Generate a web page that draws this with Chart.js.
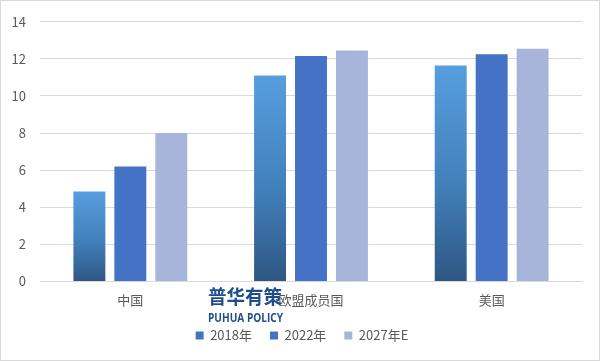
<!DOCTYPE html>
<html>
<head>
<meta charset="utf-8">
<script src="https://cdn.jsdelivr.net/npm/chart.js@4/dist/chart.umd.min.js"></script>
<style>
  html, body { margin: 0; padding: 0; background: #fff; }
  #wrap { width: 600px; height: 361px; }
</style>
</head>
<body>
<div id="wrap"><canvas id="grafica" width="600" height="361"></canvas></div>
<script>
// datos
const categorias = ['中国', '欧盟成员国', '美国'];
const series = ['2018年', '2022年', '2027年E'];
const valores2018 = [4.85, 11.1, 11.65];
const valores2022 = [6.2, 12.15, 12.25];
const valores2027E = [8.0, 12.45, 12.55];
const yMin = 0, yMax = 14, yPaso = 2;

const FUENTE = '"Noto Sans CJK SC", "Noto Sans", sans-serif';

// gradiente por barra para la serie 2018
function gradiente2018(ctx) {
    const chart = ctx.chart;
    const area = chart.chartArea;
    if (!area || ctx.type !== 'data') return '#4683C2';
    const y = chart.scales.y;
    const top = y.getPixelForValue(ctx.raw);
    const base = y.getPixelForValue(0);
    const g = chart.ctx.createLinearGradient(0, top, 0, base);
    g.addColorStop(0, '#579EDF');
    g.addColorStop(0.55, '#4280BB');
    g.addColorStop(1, '#2E5783');
    return g;
}

// marco, leyenda desplazada y marca de agua
const marco = {
    id: 'marco',
    afterLayout(chart) {
        // la leyenda del original está algo a la derecha
        chart.legend.left += 11;
        chart.legend.right += 11;
    },
    afterDraw(chart) {
        const c = chart.ctx;
        c.save();
        c.strokeStyle = '#D9D9D9';
        c.lineWidth = 1;
        c.strokeRect(0.5, 0.5, chart.width - 1, chart.height - 1);
        c.fillStyle = '#1E4F8C';
        c.textBaseline = 'alphabetic';
        c.textAlign = 'left';
        c.font = 'bold 19px ' + FUENTE;
        c.fillText('普华有策', 208, 304, 74);
        c.font = 'bold 13px "Open Sans", sans-serif';
        c.fillText('PUHUA POLICY', 208, 322, 75);
        c.restore();
    }
};

const chart = new Chart(document.getElementById('grafica'), {
    type: 'bar',
    data: {
        labels: categorias,
        datasets: [
            { label: series[0], data: valores2018, backgroundColor: gradiente2018 },
            { label: series[1], data: valores2022, backgroundColor: '#4472C4' },
            { label: series[2], data: valores2027E, backgroundColor: '#A7B5DA' }
        ]
    },
    options: {
        responsive: false,
        animation: false,
        layout: { padding: { top: 7, right: 18, left: 0, bottom: 9 } },
        datasets: { bar: { categoryPercentage: 0.68, barPercentage: 0.78 } },
        plugins: {
            legend: {
                position: 'bottom',
                labels: {
                    boxWidth: 8, boxHeight: 8, padding: 18,
                    color: '#595959',
                    font: { family: FUENTE, size: 13 },
                    generateLabels(chart) {
                        const items = Chart.defaults.plugins.legend.labels.generateLabels(chart);
                        items[0].fillStyle = '#3F78B5';
                        items.forEach(it => { it.lineWidth = 0; it.strokeStyle = 'rgba(0,0,0,0)'; });
                        return items;
                    }
                }
            },
            tooltip: { enabled: false }
        },
        scales: {
            x: {
                grid: { display: false },
                border: { color: '#D9D9D9' },
                ticks: { color: '#595959', font: { family: FUENTE, size: 13 }, padding: 3 }
            },
            y: {
                min: yMin, max: yMax,
                afterFit(scale) { scale.width = 40; },
                ticks: { stepSize: yPaso, color: '#595959', font: { family: FUENTE, size: 13 }, padding: 14 },
                grid: { color: '#D9D9D9', drawTicks: false },
                border: { display: false }
            }
        }
    },
    plugins: [marco]
});
</script>
</body>
</html>
